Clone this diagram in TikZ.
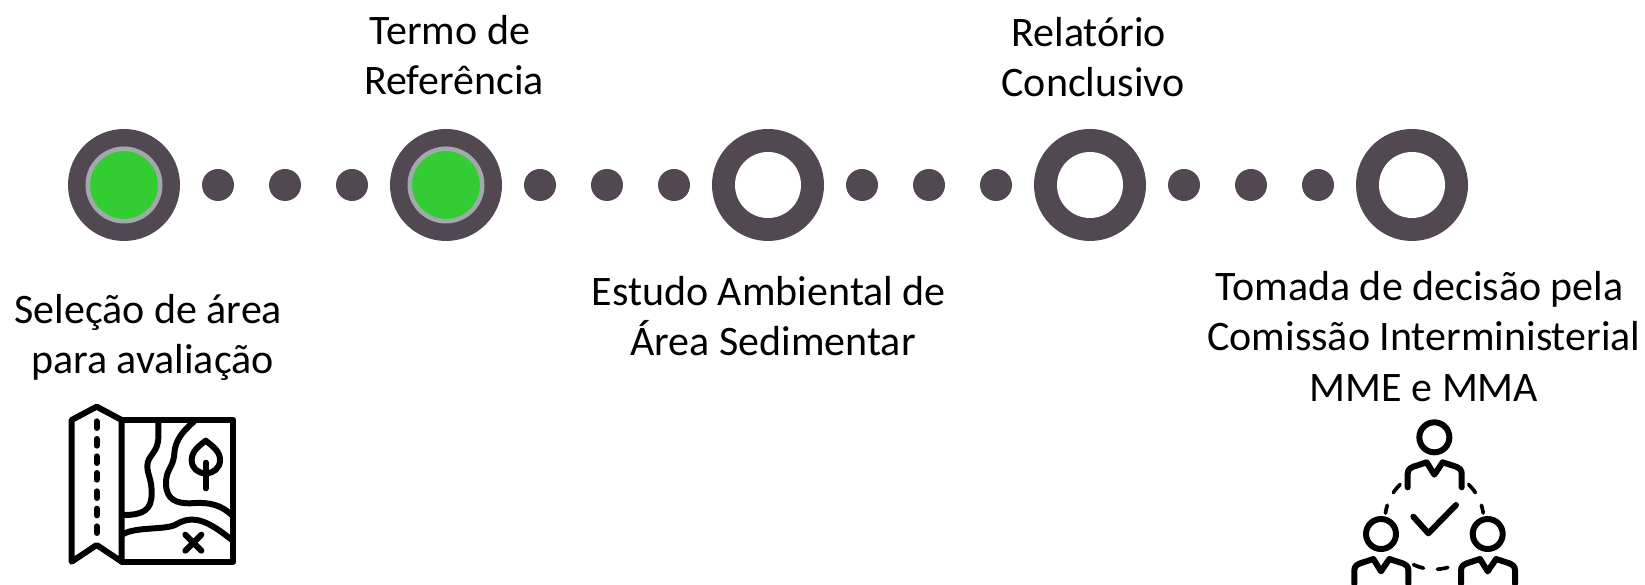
\documentclass[tikz,border=0pt]{standalone}
\usepackage{fontspec}
\setmainfont{Carlito}
\usepackage{tkz-euclide}
\definecolor{ringdark}{HTML}{524852}
\definecolor{ringgray}{HTML}{A0AAAA}
\definecolor{donegreen}{HTML}{33CC33}
\tikzset{
    bigring/.style={fill=ringdark},
    smalldot/.style={fill=ringdark},
    doneface/.style={fill=donegreen,draw=ringgray,line width=0.09cm},
    openface/.style={fill=white},
    steplabel/.style={align=center,font=\fontsize{23.9pt}{28.5pt}\selectfont,inner sep=0pt},
    iconline/.style={line width=3.4pt,line cap=round,line join=round},
    icondash/.style={line width=2.1pt,line cap=round,dash pattern=on 6pt off 8pt}
}
\newcommand{\tailgap}{\hspace*{0.17cm}}
\begin{document}
\begin{tikzpicture}
    \useasboundingbox (0,0) rectangle (32.9,11.7);
    \tkzDefPoints{2.48/8/A,8.92/8/B,15.36/8/C,21.8/8/D,28.24/8/E}
    \foreach \p in {A,B,C,D,E} \fill[bigring] (\p) circle (1.12);
    \foreach \p in {A,B} \draw[doneface] (\p) circle (0.725);
    \foreach \p in {C,D,E} \fill[openface] (\p) circle (0.66);
    \foreach \p in {A,B,C,D} \foreach \dx in {1.88,3.22,4.56}
        \fill[smalldot] ($(\p)+(\dx,0)$) circle (0.32);
    \node[steplabel] (selecao) at (3.05,4.96) {Seleção de área\tailgap\\para avaliação};
    \node[steplabel] (termo) at (9.08,10.6) {Termo de\tailgap\\Referência};
    \node[steplabel] (estudo) at (15.46,5.38) {Estudo Ambiental de\tailgap\\Área Sedimentar};
    \node[steplabel] (relatorio) at (21.86,10.55) {Relatório\tailgap\\Conclusivo};
    \node[steplabel] (tomada) at (28.48,4.97) {Tomada de decisão pela\tailgap\\Comissão Interministerial\\MME e MMA};
    % map icon
    \begin{scope}[shift={(0.8,3.9)},x=0.00667cm,y=-0.00667cm]
        \draw[iconline] (95,90) -- (170,50) -- (245,90) -- (245,515) -- (170,465) -- (95,515) -- cycle;
        \foreach \y in {90,143,195,245,300,352,405}
            \draw[iconline] (170,\y+4) -- (170,\y+24);
        \draw[iconline] (245,90) -- (580,90) -- (580,515) -- (245,515);
        \draw[iconline] (355,90) -- (355,140) .. controls (355,190) and (322,195) .. (322,228)
            .. controls (322,255) and (335,265) .. (335,310) .. controls (335,360) and (310,375) .. (250,375);
        \draw[iconline] (462,95) .. controls (425,125) and (405,155) .. (403,190)
            .. controls (400,235) and (378,235) .. (378,280) .. controls (378,330) and (410,340) .. (450,340)
            .. controls (510,335) and (545,345) .. (578,378);
        \draw[iconline] (250,432) .. controls (290,410) and (370,420) .. (405,405)
            .. controls (430,390) and (450,385) .. (480,392) .. controls (510,400) and (545,425) .. (578,452);
        \draw[iconline] (436,434) -- (484,482) (484,434) -- (436,482);
        \draw[iconline] (497,152) .. controls (520,170) and (540,185) .. (540,210)
            .. controls (540,235) and (520,250) .. (497,250) .. controls (474,250) and (455,235) .. (455,210)
            .. controls (455,185) and (474,170) .. (497,152);
        \draw[iconline] (497,218) -- (497,295);
    \end{scope}
    % people icon
    \begin{scope}
        \clip (26,0) rectangle (32,4);
        \begin{scope}[shift={(26.4,3.7)},x=0.00667cm,y=-0.00667cm]
            \foreach \dx/\dy in {0/0,-160/290,160/290} {
                \draw[iconline] (343+\dx,112+\dy) circle (45);
                \draw[iconline] (263+\dx,262+\dy) -- (263+\dx,222+\dy) .. controls (263+\dx,208+\dy) and (270+\dx,205+\dy) .. (280+\dx,200+\dy)
                    -- (320+\dx,187+\dy) -- (343+\dx,224+\dy) -- (368+\dx,187+\dy) -- (408+\dx,200+\dy)
                    .. controls (418+\dx,205+\dy) and (425+\dx,208+\dy) .. (425+\dx,222+\dy) -- (425+\dx,262+\dy);
            }
            \draw[iconline] (280,350) -- (325,400) -- (408,315);
            \draw[icondash] (343,360) ++(226:148) arc[start angle=226,end angle=188,radius=148];
            \draw[icondash] (343,360) ++(-46:148) arc[start angle=-46,end angle=-8,radius=148];
            \draw[icondash] (343,360) ++(115:148) arc[start angle=115,end angle=65,radius=148];
        \end{scope}
    \end{scope}
\end{tikzpicture}
\end{document}
